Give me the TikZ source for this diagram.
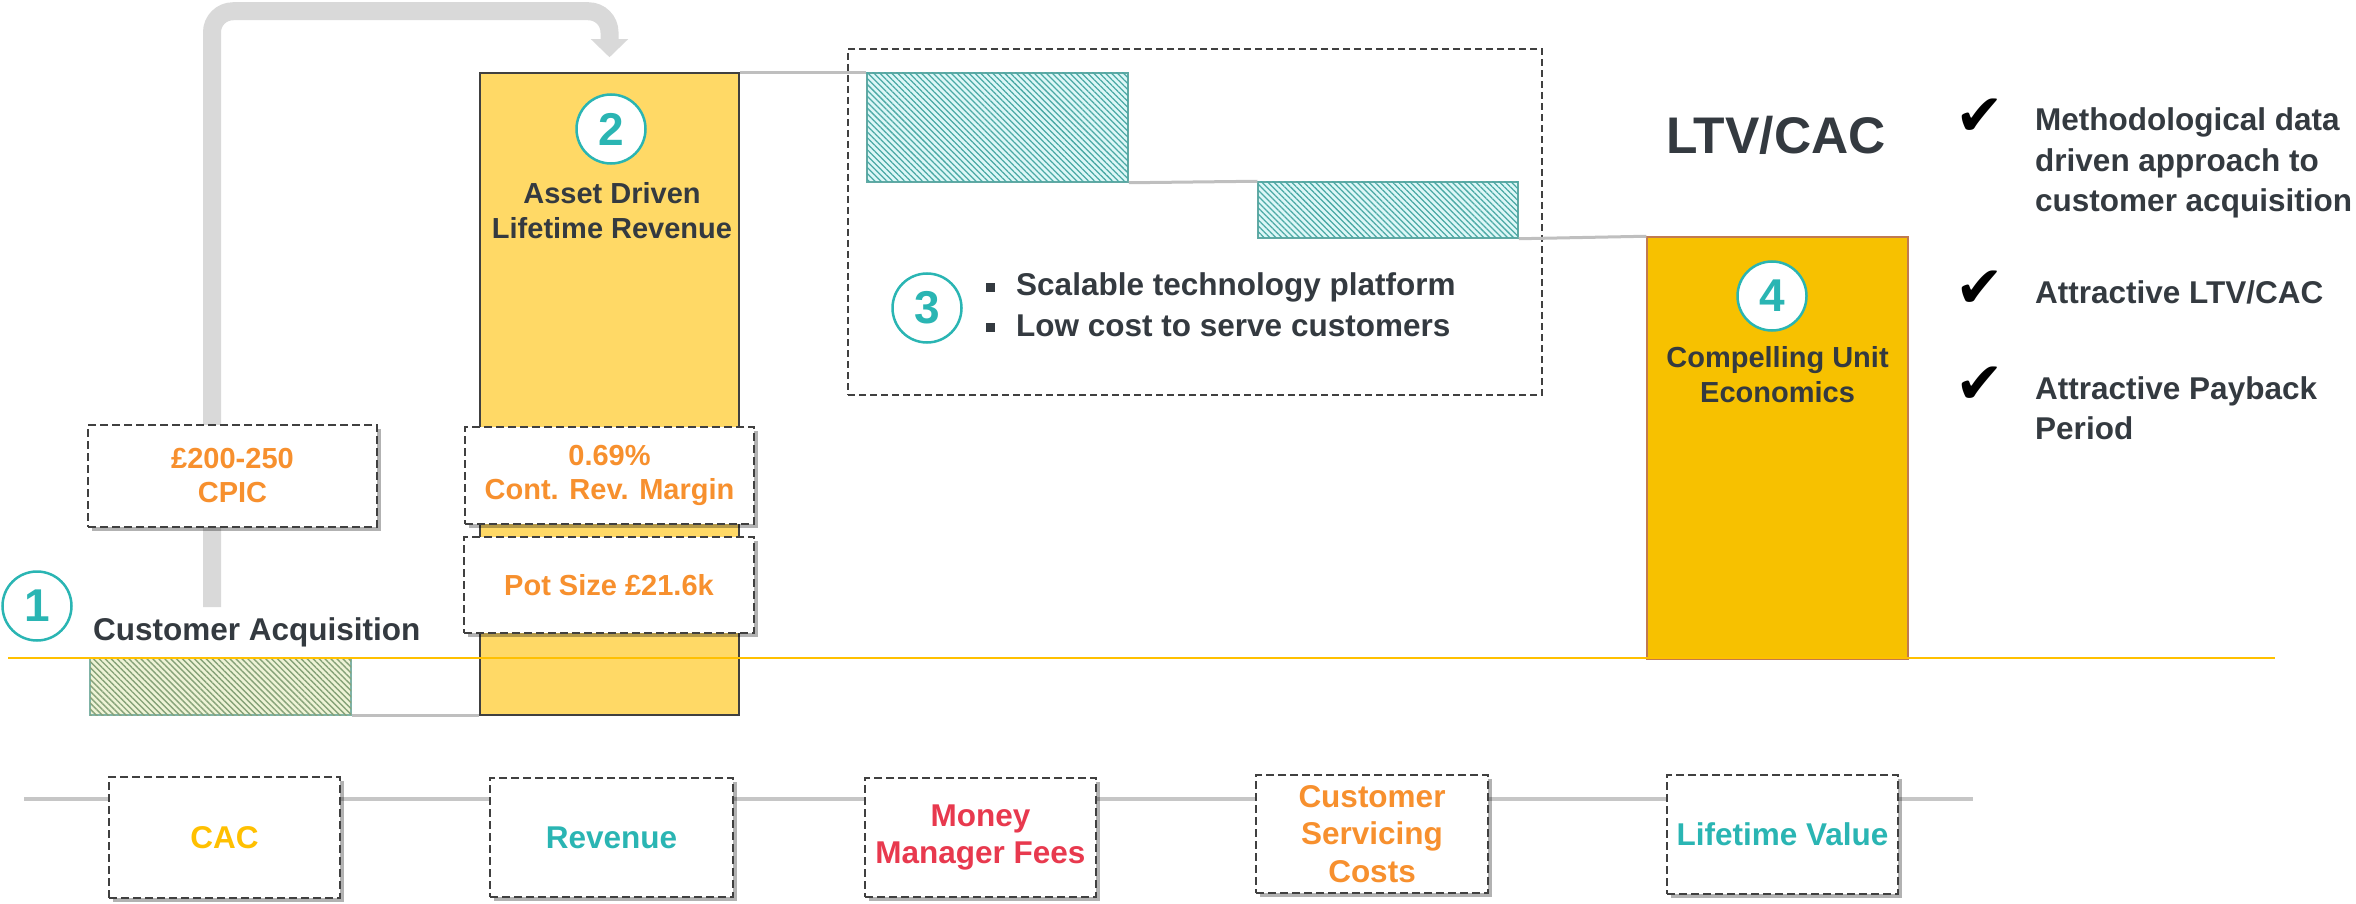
\documentclass[tikz,border=0pt]{standalone}
\usepackage{fontspec}
\setmainfont{Liberation Sans}
\newfontfamily\symfont{DejaVu Sans}
\usetikzlibrary{arrows.meta,shadows,patterns.meta}
\definecolor{ink}{HTML}{343A40}
\definecolor{tealc}{HTML}{2AB5B3}
\definecolor{orangec}{HTML}{F7902E}
\definecolor{redc}{HTML}{E8394E}
\definecolor{goldc}{HTML}{FFC000}
\definecolor{revfill}{HTML}{FFD966}
\definecolor{ltvfill}{HTML}{F7C100}
\definecolor{ltvedge}{HTML}{C07A50}
\definecolor{arrowgray}{HTML}{D9D9D9}
\definecolor{linegray}{HTML}{BFBFBF}
\definecolor{boxgray}{HTML}{404040}
\definecolor{botline}{HTML}{C6C6C6}
\definecolor{cacbg}{HTML}{EEF3D6}
\definecolor{cacline}{HTML}{86A278}
\definecolor{cacedge}{HTML}{7FB3A6}
\definecolor{tealbg}{HTML}{DDF7F7}
\definecolor{tealline}{HTML}{4AA9A5}
\definecolor{tealedge}{HTML}{62A9A4}
\newcommand\bul{\raisebox{4pt}{\rule{9pt}{9pt}}\hspace{21pt}}
\begin{document}
\begin{tikzpicture}[x=1pt,y=-1pt,
  txt/.style={text=ink,font=\bfseries\fontsize{29}{35}\selectfont,align=center,inner sep=0pt},
  txtL/.style={text=ink,font=\bfseries\fontsize{31.5}{40.5}\selectfont,align=left,inner sep=0pt},
  num/.style={circle,draw=tealc,line width=2.5pt,fill=white,minimum size=69pt,inner sep=0pt,text=tealc,font=\bfseries\fontsize{46}{46}\selectfont},
  shadowbox/.style={draw=boxgray,dash pattern=on 8pt off 4pt,line width=2pt,fill=white,inner sep=0pt,align=center,drop shadow={shadow xshift=4pt,shadow yshift=-4pt,opacity=0.3,fill=black}},
  midbox/.style={shadowbox,text=orangec,font=\bfseries\fontsize{29}{34}\selectfont},
  botbox/.style={shadowbox,font=\bfseries\fontsize{31.5}{37.5}\selectfont},
  link/.style={draw=linegray,line width=3pt},
  hatchgreen/.style={draw=cacedge,line width=1.5pt,fill=cacbg,inner sep=0pt,postaction={pattern={Lines[angle=-45,distance=4.2pt,line width=1.4pt]},pattern color=cacline}},
  hatchteal/.style={draw=tealedge,line width=1.5pt,fill=tealbg,inner sep=0pt,postaction={pattern={Lines[angle=-45,distance=4.2pt,line width=1.25pt]},pattern color=tealline}},
  bigarrow/.style={draw=arrowgray,line width=18pt,rounded corners=21pt,-{Triangle[width=36pt,length=18pt]}},
  checkmk/.style={inner sep=0pt,font=\symfont\fontsize{58}{58}\selectfont},
  groupbox/.style={draw=boxgray,dash pattern=on 7pt off 4pt,line width=1.6pt,inner sep=0pt}
]
\useasboundingbox (0,0) rectangle (2356,904);

% stage 3 group box
\node[groupbox,minimum width=694pt,minimum height=346pt] (grp) at (1195,222) {};

% bars
\node[draw=boxgray,line width=1.5pt,fill=revfill,minimum width=259pt,minimum height=642pt,inner sep=0pt] (rev) at (609.5,394) {};
\node[draw=ltvedge,line width=1.5pt,fill=ltvfill,minimum width=261pt,minimum height=422pt,inner sep=0pt] (ltv) at (1777.5,448) {};
\node[hatchgreen,minimum width=261pt,minimum height=57pt] (cacbar) at (220.5,686.5) {};
\node[hatchteal,minimum width=261pt,minimum height=109pt] (bar1) at (997.5,127.5) {};
\node[hatchteal,minimum width=260pt,minimum height=56pt] (bar2) at (1388,210) {};

% links between bars
\draw[link] (cacbar.south east) -- (rev.south west);
\draw[link] (rev.north east) -- (bar1.north west);
\draw[link] (bar1.south east) -- (bar2.north west);
\draw[link] (bar2.south east) -- (ltv.north west);

% big arrow
\coordinate (cs) at (212,607);
\draw[bigarrow] (cs) |- ([yshift=61pt]rev.north) -- ([yshift=15pt]rev.north);

% value boxes
\node[midbox,minimum width=289pt,minimum height=102pt] (cpic) at (232.5,476) {£200-250\\CPIC};
\node[midbox,minimum width=289pt,minimum height=97pt] (margin) at (609.5,475.5) {0.69\%\\Cont. Rev. Margin};
\node[midbox,minimum width=290pt,minimum height=96pt] (pot) at (609,585) {Pot Size £21.6k};

% numbered circles
\node[num] (c1) at (37,606) {1};
\node[num] (c2) at (611,129) {2};
\node[num] (c3) at (927,308) {3};
\node[num] (c4) at (1772,296) {4};

% texts
\node[txtL,anchor=base west] (tca) at (93,640) {Customer Acquisition};
\node[txt] (trev) at (612,210.5) {Asset Driven\\Lifetime Revenue};
\node[txt] (tltv) at (1777.5,375) {Compelling Unit\\Economics};
\node[txtL,anchor=west] (tbul) at (986,304.5) {\bul Scalable technology platform\\\bul Low cost to serve customers};
\node[text=ink,inner sep=0pt,font=\bfseries\fontsize{51.5}{60}\selectfont,anchor=base west] (tltvcac) at (1666,154) {LTV/CAC};

% check list
\node[checkmk] (ck1) at (1979.5,117) {✔};
\node[checkmk] (ck2) at (1979.5,289) {✔};
\node[checkmk] (ck3) at (1979.5,385) {✔};
\node[txtL,anchor=west] (r1) at (2035,163.3) {Methodological data\\driven approach to\\customer acquisition};
\node[txtL,anchor=west] (r2) at (2035,292) {Attractive LTV/CAC};
\node[txtL,anchor=west] (r3) at (2035,408) {Attractive Payback\\Period};

% zero line
\coordinate (ys) at (8,658);
\coordinate (ye) at (2275,658);
\draw[goldc,line width=2.5pt] (ys) -- (ye);

% bottom legend
\coordinate (ls) at (24,799);
\coordinate (le) at (1973,799);
\draw[botline,line width=4pt] (ls) -- (le);
\node[botbox,text=goldc,minimum width=231pt,minimum height=121pt] (bcac) at (224.5,837.5) {CAC};
\node[botbox,text=tealc,minimum width=243pt,minimum height=119pt] (brev) at (611.5,837.5) {Revenue};
\node[botbox,text=redc,minimum width=231pt,minimum height=119pt] (bmmf) at (980.5,837.5) {Money\\Manager Fees};
\node[botbox,text=orangec,minimum width=232pt,minimum height=118pt] (bcsc) at (1372,834) {Customer\\Servicing\\Costs};
\node[botbox,text=tealc,minimum width=231pt,minimum height=119pt] (bltv) at (1782.5,834.5) {Lifetime Value};
\end{tikzpicture}
\end{document}
